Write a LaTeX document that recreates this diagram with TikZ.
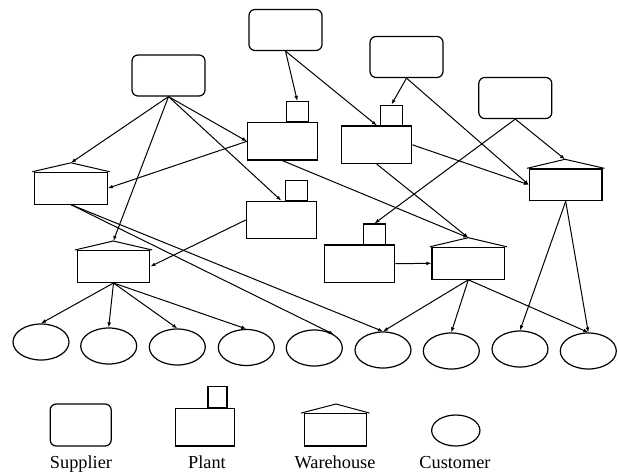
\documentclass[tikz,border=0pt]{standalone}
\usepackage{fontspec}
\setmainfont{Liberation Serif}
\usetikzlibrary{arrows.meta,shapes.geometric}
\tikzset{
  supp/.style={draw, line width=1.2pt, rounded corners=6pt, minimum width=73pt, minimum height=41pt, inner sep=0pt},
  plantbox/.style={draw, line width=1.2pt, minimum width=70pt, minimum height=37.5pt, inner sep=0pt},
  chim/.style={draw, line width=1.2pt, minimum width=21.6pt, minimum height=20.3pt, inner sep=0pt},
  whbox/.style={draw, line width=1.2pt, minimum width=72.5pt, minimum height=31.8pt, inner sep=0pt},
  cust/.style={draw, line width=1.2pt, ellipse, minimum width=56pt, minimum height=36pt, inner sep=0pt},
  roof/.style={line width=1pt},
  flow/.style={line width=1pt, -{Latex[length=5pt,width=3.8pt]}},
  lbl/.style={anchor=base, inner sep=0pt, font=\fontsize{18.3pt}{20pt}\selectfont}
}
\begin{document}
\begin{tikzpicture}[x=1pt,y=-1pt]
\useasboundingbox (0,0) rectangle (618,472);
% suppliers
\node[supp] (S1) at (168.5,75.5) {};
\node[supp] (S2) at (285.5,30) {};
\node[supp] (S3) at (406.5,57) {};
\node[supp] (S4) at (515.3,98) {};
% plants
\node[plantbox] (P1) at (282.5,141.3) {};
\node[chim,anchor=south] (P1c) at (297.3,122.5) {};
\node[plantbox] (P2) at (281.3,220) {};
\node[chim,anchor=south] (P2c) at (296.5,201.2) {};
\node[plantbox] (P3) at (376.8,144.8) {};
\node[chim,anchor=south] (P3c) at (391.5,126) {};
\node[plantbox] (P4) at (359.7,263.7) {};
\node[chim,anchor=south] (P4c) at (374.5,244.9) {};
% warehouses
\node[whbox] (W1) at (71,188.2) {};
\coordinate (W1r) at (71,162.8);
\node[whbox] (W2) at (113.5,266.5) {};
\coordinate (W2r) at (113.3,241);
\node[whbox] (W3) at (565.7,184.8) {};
\coordinate (W3r) at (565,159.3);
\node[whbox] (W4) at (468.3,263.3) {};
\coordinate (W4r) at (468.3,237.7);
\foreach \w in {W1,W2,W3,W4}{
  \draw[roof] ([xshift=-1.8pt]\w.north west) -- (\w r) -- ([xshift=1.8pt]\w.north east);
}
% customers
\node[cust] (C1) at (41,342) {};
\node[cust] (C2) at (108.7,346) {};
\node[cust] (C3) at (177.3,347) {};
\node[cust] (C4) at (246.3,347.5) {};
\node[cust] (C5) at (314.3,348) {};
\node[cust] (C6) at (383,350) {};
\node[cust] (C7) at (451.3,351) {};
\node[cust] (C8) at (520,349) {};
\node[cust] (C9) at (588.3,351) {};
% flows
\draw[flow] (S1.south) -- (W1r);
\draw[flow] (S1.south) -- (W2r);
\draw[flow] (S1.south) -- (P1.west);
\draw[flow] (S1.south) -- (P2.north);
\draw[flow] (P1.west) -- (W1.east);
\draw[flow] (S2.south) -- (P1c.north);
\draw[flow] (S2.south) -- (P3.north);
\draw[flow] (S3.south) -- (P3c.north);
\draw[flow] (S3.south) -- (W3.west);
\draw[flow] (S4.south) -- (W3r);
\draw[flow] (S4.south) -- (P4c.north);
\draw[flow] (P3.east) -- (W3.west);
\draw[flow] (P3.south) -- (W4r);
\draw[flow] (P1.south) -- (W4r);
\draw[flow] (W1.south) -- (C5.35);
\draw[flow] (W1.south) -- (C6.north);
\draw[flow] (P2.west) -- (W2.east);
\draw[flow] (P4.east) -- (W4.west);
\draw[flow] (W3.south) -- (C8.north);
\draw[flow] (W3.south) -- (C9.north);
\draw[flow] (W4.south) -- (C6.north);
\draw[flow] (W4.south) -- (C7.north);
\draw[flow] (W4.south) -- (C9.north);
\draw[flow] (W2.south) -- (C1.north);
\draw[flow] (W2.south) -- (C2.north);
\draw[flow] (W2.south) -- (C3.north);
\draw[flow] (W2.south) -- (C4.north);
% legend
\node[supp, minimum width=61pt, minimum height=42pt] (LS) at (80.7,425) {};
\node[plantbox, minimum width=59pt, minimum height=37.7pt] (LP) at (204.8,427.2) {};
\node[chim, minimum width=19pt, minimum height=21pt, anchor=south] (LPc) at (217.5,408.4) {};
\node[whbox, minimum width=62.4pt, minimum height=32.3pt] (LW) at (335.5,429.8) {};
\coordinate (LWr) at (336,404);
\draw[roof] ([xshift=-2.6pt]LW.north west) -- (LWr) -- ([xshift=2.3pt]LW.north east);
\node[cust, minimum width=48.3pt, minimum height=31pt] (LC) at (455.8,430.5) {};
\node[lbl] (tS) at (81,468) {Supplier};
\node[lbl] (tP) at (207,468) {Plant};
\node[lbl] (tW) at (335,468) {Warehouse};
\node[lbl] (tC) at (455,468) {Customer};
\end{tikzpicture}
\end{document}
